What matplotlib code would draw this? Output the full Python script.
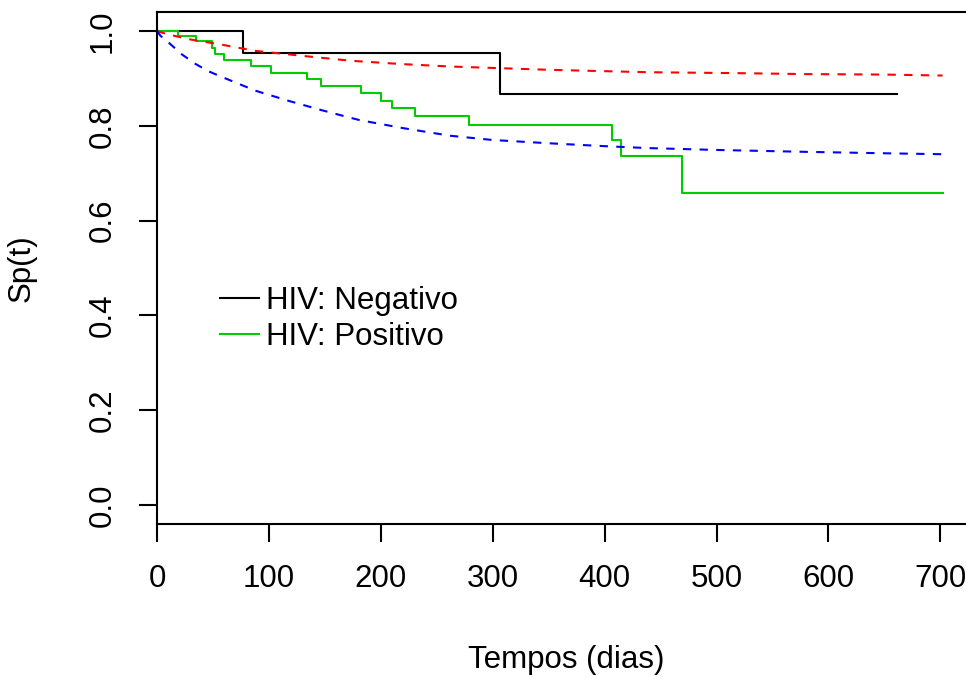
import matplotlib
matplotlib.use("Agg")
import matplotlib.pyplot as plt

plt.rcParams['font.family'] = ['Liberation Sans', 'DejaVu Sans']

# Kaplan-Meier, HIV negativo
neg_t = [0, 77, 306.5]
neg_s = [1.0, 0.953, 0.867]
neg_end = 661.6

# Kaplan-Meier, HIV positivo
pos_t = [0, 19, 35, 49, 52, 60, 84, 101.6, 134, 147, 182, 200, 209.7, 231,
         278.5, 407, 415, 469.4]
pos_s = [1.0, 0.989, 0.978, 0.964, 0.951, 0.939, 0.926, 0.912, 0.898, 0.884,
         0.869, 0.853, 0.837, 0.821, 0.801, 0.770, 0.736, 0.658]
pos_end = 702

# fitted curves (dashed)
red_t = [0, 5, 15, 30, 58, 88, 132, 174, 220, 262, 351, 438, 520, 580, 650, 702]
red_s = [1.0, 0.996, 0.990, 0.982, 0.971, 0.958, 0.947, 0.937, 0.930, 0.925,
         0.918, 0.913, 0.911, 0.909, 0.908, 0.906]

blue_t = [0, 3, 11.6, 22, 34, 46, 58, 88, 117, 147, 171, 181, 220, 262, 300,
          351, 400, 438, 500, 580, 650, 702]
blue_s = [1.0, 0.99, 0.973, 0.951, 0.931, 0.915, 0.903, 0.874, 0.853, 0.833,
          0.818, 0.812, 0.795, 0.779, 0.770, 0.763, 0.757, 0.753, 0.749, 0.745,
          0.742, 0.740]

xticks = [0, 100, 200, 300, 400, 500, 600, 700]
yticks = [0.0, 0.2, 0.4, 0.6, 0.8, 1.0]

W, H = 966, 677
fig = plt.figure(figsize=(W / 100, H / 100), dpi=100)
# plot region in pixels: left 157, right 975, top 12, bottom 524
ax = fig.add_axes([157 / W, (H - 524) / H, (975 - 157) / W, (524 - 12) / H])

fs = 22.5
lw = 1.5

ax.step(neg_t + [neg_end], neg_s + [neg_s[-1]], where='post', color='black', lw=lw)
ax.step(pos_t + [pos_end], pos_s + [pos_s[-1]], where='post', color='#00CD00', lw=lw)
ax.plot(red_t, red_s, color='red', lw=lw, linestyle=(0, (4, 4)))
ax.plot(blue_t, blue_s, color='blue', lw=lw, linestyle=(0, (4, 4)))

ax.set_xlim(0, 731)
ax.set_ylim(-0.04, 1.04)
ax.set_xticks(xticks)
ax.set_xticklabels([str(v) for v in xticks])
ax.set_yticks(yticks)
ax.set_yticklabels([f"{v:.1f}" for v in yticks], rotation=90, va='center')

for s in ax.spines.values():
    s.set_linewidth(lw)
ax.tick_params(axis='both', length=13, width=lw, labelsize=fs, direction='out')
ax.tick_params(axis='x', pad=16)
ax.tick_params(axis='y', pad=15)

fig.text(566 / W, (H - 660) / H, "Tempos (dias)", ha='center', va='center', fontsize=fs)
fig.text(22 / W, (H - 268) / H, "Sp(t)", ha='center', va='center', rotation=90, fontsize=fs)

h1, = ax.plot([], [], color='black', lw=lw)
h2, = ax.plot([], [], color='#00CD00', lw=lw)
fig.legend([h1, h2], ["HIV: Negativo", "HIV: Positivo"], loc='center left',
           bbox_to_anchor=(220 / W, (H - 319) / H), frameon=False, fontsize=fs,
           handlelength=1.25, handletextpad=0.22, labelspacing=0.2,
           borderpad=0, borderaxespad=0)

fig.savefig("out.png", dpi=100)
